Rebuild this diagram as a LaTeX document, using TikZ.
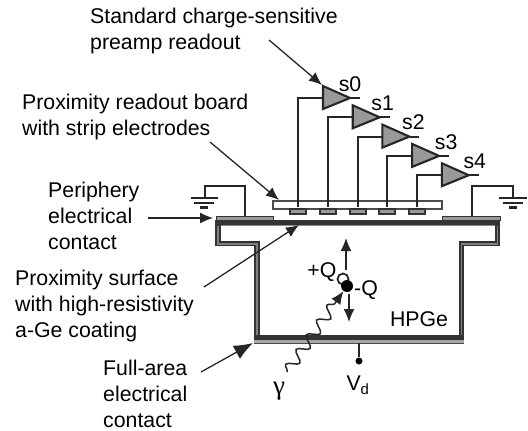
\documentclass[tikz,border=0pt]{standalone}
\usepackage{fontspec}
\setmainfont{Liberation Sans}
\newfontfamily\greekfont{Liberation Serif}
\usetikzlibrary{arrows.meta,decorations.pathmorphing}
\definecolor{ampgray}{HTML}{999999}
\definecolor{wallgray}{HTML}{333333}
\definecolor{wallcore}{HTML}{808080}
\tikzset{
	lbl/.style={inner sep=0,align=left,anchor=west,font=\fontsize{21.3}{26}\selectfont},
	tag/.style={inner sep=0,font=\fontsize{21.3}{24}\selectfont},
	point/.style={-{Latex[length=13,width=11]},line width=1.3,black!85},
	wire/.style={line width=2.1,black!85}
}
\begin{document}
\begin{tikzpicture}[x=1pt,y=-1pt]
	\useasboundingbox (0,0) rectangle (528,431);
	%labels
	\node[lbl] (standard) at (90,30.5) {Standard charge-sensitive\\preamp readout};
	\node[lbl] (board) at (22,117) {Proximity readout board\\with strip electrodes};
	\node[lbl] (periphery) at (48,216) {Periphery\\electrical\\contact};
	\node[lbl] (surface) at (15,306) {Proximity surface\\with high-resistivity\\a-Ge coating};
	\node[lbl] (fullarea) at (103,394) {Full-area\\electrical\\contact};
	\node[tag] (hpge) at (419,319) {HPGe};
	\node[tag] (plusq) at (322,272) {+Q};
	\node[tag] (minusq) at (366,290) {-Q};
	\node[tag] (vd) at (358,385) {V\textsubscript{d}};
	\node[tag,font=\greekfont\fontsize{27}{27}\selectfont] (gamma) at (279,391) {γ};
	%detector
	\draw[line width=1,wallgray,fill=ampgray] (216,216) rectangle (273,220);
	\draw[line width=1,wallgray,fill=ampgray] (442,216) rectangle (500,220);
	\draw[line width=5.5,wallgray] (218,222) -- (218,243.7) -- (257,243.7) -- (257,337.5) -- (461.5,337.5) -- (461.5,243.7) -- (497.5,243.7) -- (497.5,222);
	\draw[line width=1.8,wallcore] (218,226) -- (218,243.7) -- (257,243.7) -- (257,335);
	\draw[line width=1.8,wallcore] (461.5,335) -- (461.5,243.7) -- (497.5,243.7) -- (497.5,226);
	\draw[line width=5,wallgray] (215,222.5) -- (500,222.5);
	\draw[line width=1,black!45] (221,225.3) -- (495,225.3);
	\draw[line width=3,black!35] (254,341.5) -- (464,341.5);
	\draw[line width=0.8,black!70] (254,343.4) -- (464,343.4);
	%board and strips
	\draw[line width=1.2,black!70,fill=white] (273,201) rectangle (442,209);
	\draw[line width=1.4,wallgray,fill=ampgray] (290,209) rectangle (306,214) node[midway] (strip0) {};
	\draw[line width=1.4,wallgray,fill=ampgray] (320,209) rectangle (336,214) node[midway] (strip1) {};
	\draw[line width=1.4,wallgray,fill=ampgray] (350,209) rectangle (366,214) node[midway] (strip2) {};
	\draw[line width=1.4,wallgray,fill=ampgray] (379,209) rectangle (395,214) node[midway] (strip3) {};
	\draw[line width=1.4,wallgray,fill=ampgray] (409,209) rectangle (425,214) node[midway] (strip4) {};
	%amplifiers
	\begin{scope}
		\coordinate (in0) at (323,98);
		\coordinate (out0) at (360,98);
		\draw[wire] (in0) -| (strip0.north);
		\draw[wire,fill=ampgray] (323,86) -- (350,98) coordinate (tip0) -- (323,109) -- cycle;
		\node[tag] (s0) at (350,84) {s0};
		\draw[wire] (tip0) -- (out0);
	\end{scope}
	\begin{scope}[shift={(29.7,19.3)}]
		\coordinate (in1) at (323,98);
		\coordinate (out1) at (360,98);
		\draw[wire] (in1) -| (strip1.north);
		\draw[wire,fill=ampgray] (323,86) -- (350,98) coordinate (tip1) -- (323,109) -- cycle;
		\node[tag] (s1) at (353,84) {s1};
		\draw[wire] (tip1) -- (out1);
	\end{scope}
	\begin{scope}[shift={(59.4,38.6)}]
		\coordinate (in2) at (323,98);
		\coordinate (out2) at (360,98);
		\draw[wire] (in2) -| (strip2.north);
		\draw[wire,fill=ampgray] (323,86) -- (350,98) coordinate (tip2) -- (323,109) -- cycle;
		\node[tag] (s2) at (354,84) {s2};
		\draw[wire] (tip2) -- (out2);
	\end{scope}
	\begin{scope}[shift={(89.1,57.9)}]
		\coordinate (in3) at (323,98);
		\coordinate (out3) at (360,98);
		\draw[wire] (in3) -| (strip3.north);
		\draw[wire,fill=ampgray] (323,86) -- (350,98) coordinate (tip3) -- (323,109) -- cycle;
		\node[tag] (s3) at (357,84) {s3};
		\draw[wire] (tip3) -- (out3);
	\end{scope}
	\begin{scope}[shift={(118.8,77.2)}]
		\coordinate (in4) at (323,98);
		\coordinate (out4) at (360,98);
		\draw[wire] (in4) -| (strip4.north);
		\draw[wire,fill=ampgray] (323,86) -- (350,98) coordinate (tip4) -- (323,109) -- cycle;
		\node[tag] (s4) at (356,84) {s4};
		\draw[wire] (tip4) -- (out4);
	\end{scope}
	%grounds
	\coordinate (contactl) at (245,216);
	\coordinate (groundl) at (205,198);
	\coordinate (contactr) at (472,216);
	\coordinate (groundr) at (513,198);
	\draw[wire] (contactl) |- (205,186) -- (groundl);
	\draw[wire] (contactr) |- (513,186) -- (groundr);
	\draw[wire] (191,198) -- (218,198);
	\draw[wire] (194,203) -- (214,203);
	\draw[wire] (200,207.5) -- (208,207.5);
	\draw[wire] (499,198) -- (527,198);
	\draw[wire] (503,203) -- (523,203);
	\draw[wire] (509,207.5) -- (517,207.5);
	%pointers
	\coordinate (astart) at (269,40);
	\coordinate (aend) at (322,85);
	\draw[point] (astart) -- (aend);
	\coordinate (bstart) at (210,142);
	\coordinate (bend) at (279,200);
	\draw[point] (bstart) -- (bend);
	\coordinate (cstart) at (148,218);
	\coordinate (cend) at (213,218);
	\draw[point] (cstart) -- (cend);
	\coordinate (dstart) at (204,287);
	\coordinate (dend) at (299,225);
	\draw[point] (dstart) -- (dend);
	\coordinate (estart) at (201,372);
	\coordinate (eend) at (253,343);
	\draw[point,-{Latex[length=19,width=15]}] (estart) -- (eend);
	%charges
	\node[circle,draw=black!85,line width=1.8,inner sep=0,minimum size=11,fill=white] (hole) at (343,279) {};
	\node[circle,fill=black,inner sep=0,minimum size=12] (electron) at (347,286) {};
	\coordinate (uptip) at (346,238);
	\coordinate (downtip) at (349,322);
	\coordinate (upstart) at (346,270);
	\coordinate (downstart) at (349,294);
	\draw[point] (upstart) -- (uptip);
	\draw[point] (downstart) -- (downtip);
	\coordinate (wavestart) at (287,372);
	\draw[line width=1.5,black!85,-{Latex[length=13,width=11]},decorate,decoration={snake,amplitude=5.5,segment length=18,post length=13}] (wavestart) -- (electron);
	%bias
	\node[circle,fill=black,inner sep=0,minimum size=7] (vdot) at (359,361) {};
	\coordinate (vtop) at (359,343);
	\draw[wire] (vtop) -- (vdot);
\end{tikzpicture}
\end{document}
